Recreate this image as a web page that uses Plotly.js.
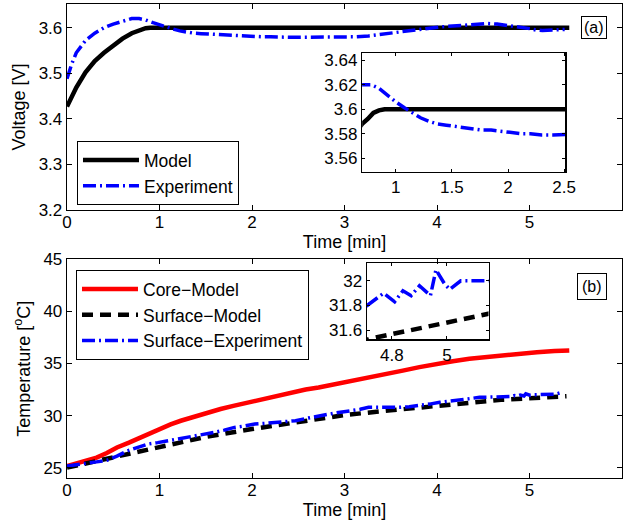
<!DOCTYPE html>
<html>
<head>
<meta charset="utf-8">
<script src="https://cdn.plot.ly/plotly-3.0.1.min.js"></script>
<style>html,body{margin:0;padding:0;background:#fff}#chart{width:626px;height:523px}</style>
</head>
<body>
<div id="chart"></div>
<script>
// ---- Voltage panel (a) ----
var tModel = [0, 0.1, 0.2, 0.3, 0.4, 0.5, 0.6, 0.7, 0.75, 0.8, 0.85, 0.9, 1.0, 2.0, 3.0, 4.0, 5.0, 5.43];
var vModel = [3.427, 3.469, 3.502, 3.527, 3.545, 3.562, 3.576, 3.588, 3.592, 3.597, 3.599, 3.600, 3.600, 3.600, 3.600, 3.600, 3.600, 3.600];

var tExp = [0, 0.05, 0.1, 0.2, 0.3, 0.4, 0.5, 0.6, 0.7, 0.78, 0.85, 0.93, 1.0, 1.08, 1.15, 1.22, 1.3, 1.37, 1.45, 1.53, 1.65, 1.76, 1.85, 1.94, 2.03, 2.12, 2.2, 2.3, 2.4, 2.52, 2.7, 2.9, 3.1, 3.26, 3.4, 3.58, 3.7, 3.8, 3.92, 4.05, 4.2, 4.35, 4.45, 4.55, 4.65, 4.78, 4.9, 5.0, 5.07, 5.14, 5.25, 5.38];
var vExp = [3.488, 3.52, 3.545, 3.572, 3.588, 3.600, 3.608, 3.615, 3.620, 3.620, 3.617, 3.611, 3.606, 3.601, 3.597, 3.593, 3.590, 3.588, 3.587, 3.586, 3.584, 3.583, 3.583, 3.582, 3.581, 3.580, 3.580, 3.579, 3.579, 3.579, 3.579, 3.579, 3.580, 3.582, 3.586, 3.590, 3.593, 3.596, 3.599, 3.602, 3.604, 3.605, 3.607, 3.609, 3.608, 3.605, 3.601, 3.598, 3.595, 3.594, 3.595, 3.596];

// ---- Temperature panel (b) ----
var tCore = [0, 0.1, 0.2, 0.32, 0.43, 0.54, 0.67, 0.8, 0.9, 1.01, 1.12, 1.23, 1.37, 1.52, 1.66, 1.81, 1.95, 2.1, 2.26, 2.43, 2.58, 2.72, 2.9, 3.08, 3.26, 3.45, 3.63, 3.81, 3.99, 4.17, 4.35, 4.53, 4.72, 4.9, 5.08, 5.27, 5.43];
var coreModel = [25.15, 25.4, 25.65, 25.96, 26.4, 26.93, 27.4, 27.9, 28.35, 28.8, 29.15, 29.5, 29.9, 30.3, 30.63, 30.95, 31.25, 31.55, 31.9, 32.23, 32.5, 32.7, 33.0, 33.35, 33.68, 34.0, 34.32, 34.65, 34.97, 35.22, 35.45, 35.62, 35.77, 35.95, 36.09, 36.2, 36.25];

var tSurf = [0, 0.5, 1.0, 1.5, 2.0, 2.5, 3.0, 3.5, 4.0, 4.5, 4.72, 5.12, 5.4];
var surfModel = [25.0, 25.96, 27.0, 27.95, 28.7, 29.35, 30.05, 30.5, 30.95, 31.35, 31.53, 31.72, 31.85];

var tSurfExp = [0, 0.1, 0.22, 0.32, 0.43, 0.54, 0.65, 0.76, 0.87, 0.98, 1.09, 1.2, 1.3, 1.45, 1.59, 1.7, 1.81, 1.92, 2.03, 2.14, 2.25, 2.36, 2.47, 2.6, 2.72, 2.81, 2.90, 3.0, 3.08, 3.17, 3.26, 3.42, 3.59, 3.7, 3.81, 3.92, 4.03, 4.12, 4.21, 4.33, 4.46, 4.57, 4.68, 4.71, 4.77, 4.81, 4.84, 4.87, 4.90, 4.94, 4.96, 4.99, 5.01, 5.05, 5.13, 5.2, 5.28, 5.35];
var surfExp = [25.15, 25.3, 25.48, 25.55, 25.7, 26.1, 26.6, 26.95, 27.25, 27.4, 27.57, 27.75, 27.96, 28.15, 28.38, 28.6, 28.86, 29.0, 29.18, 29.25, 29.34, 29.42, 29.5, 29.75, 29.99, 30.1, 30.24, 30.35, 30.47, 30.6, 30.79, 30.78, 30.79, 30.85, 30.95, 31.1, 31.27, 31.35, 31.43, 31.6, 31.75, 31.78, 31.82, 31.80, 31.90, 31.83, 31.92, 31.88, 31.96, 31.88, 32.09, 31.98, 31.93, 32.0, 32.0, 32.0, 32.05, 32.23];

// tick labels
var xTicks = [0, 1, 2, 3, 4, 5, 6];
var vTicks = [3.2, 3.3, 3.4, 3.5, 3.6];
var vTickText = ['3.2', '3.3', '3.4', '3.5', '3.6'];
var tTicks = [25, 30, 35, 40, 45];
var insetAX = [1, 1.5, 2, 2.5];
var insetAXText = ['1', '1.5', '2', '2.5'];
var insetAY = [3.56, 3.58, 3.6, 3.62, 3.64];
var insetAYText = ['3.56', '3.58', '3.6', '3.62', '3.64'];
var insetBX = [4.8, 5];
var insetBXText = ['4.8', '5'];
var insetBY = [31.6, 31.8, 32];
var insetBYText = ['31.6', '31.8', '32'];

var FONT = 'Liberation Sans, Arial, sans-serif';
var TICK = 17;
var LAB = 18;
var LEG = 17.5;
var dashDot = '13px,4px,2px,4px';
var dashed = '11px,7px';

var traces = [
  {x: tModel, y: vModel, name: 'Model', mode: 'lines', line: {color: '#000', width: 4.5}, xaxis: 'x', yaxis: 'y', legend: 'legend'},
  {x: tExp, y: vExp, name: 'Experiment', mode: 'lines', line: {color: '#0000ff', width: 3.5, dash: dashDot}, xaxis: 'x', yaxis: 'y', legend: 'legend'},
  {x: tModel, y: vModel, mode: 'lines', line: {color: '#000', width: 4.5}, xaxis: 'x3', yaxis: 'y3', showlegend: false},
  {x: tExp, y: vExp, mode: 'lines', line: {color: '#0000ff', width: 3.5, dash: dashDot}, xaxis: 'x3', yaxis: 'y3', showlegend: false},
  {x: tCore, y: coreModel, name: 'Core\u2212Model', mode: 'lines', line: {color: '#ff0000', width: 4.5}, xaxis: 'x2', yaxis: 'y2', legend: 'legend2'},
  {x: tSurf, y: surfModel, name: 'Surface\u2212Model', mode: 'lines', line: {color: '#000', width: 4.5, dash: dashed}, xaxis: 'x2', yaxis: 'y2', legend: 'legend2'},
  {x: tSurfExp, y: surfExp, name: 'Surface\u2212Experiment', mode: 'lines', line: {color: '#0000ff', width: 3.5, dash: dashDot}, xaxis: 'x2', yaxis: 'y2', legend: 'legend2'},
  {x: tSurf, y: surfModel, mode: 'lines', line: {color: '#000', width: 4.5, dash: dashed}, xaxis: 'x4', yaxis: 'y4', showlegend: false},
  {x: tSurfExp, y: surfExp, mode: 'lines', line: {color: '#0000ff', width: 3.5, dash: dashDot}, xaxis: 'x4', yaxis: 'y4', showlegend: false}
];

function ax(extra) {
  var base = {showline: true, linecolor: '#000', linewidth: 1.3, mirror: 'ticks', ticks: 'inside', ticklen: 5, tickwidth: 1, tickcolor: '#000',
    showgrid: false, zeroline: false, tickfont: {family: FONT, size: TICK, color: '#000'}, fixedrange: true};
  for (var k in extra) base[k] = extra[k];
  return base;
}

var layout = {
  width: 626, height: 523,
  margin: {l: 67, r: 4.3, t: 4, b: 45.3},
  paper_bgcolor: '#fff', plot_bgcolor: 'rgba(0,0,0,0)',
  font: {family: FONT, size: LAB, color: '#000'},
  xaxis: ax({domain: [0, 1], anchor: 'y', range: [0, 6], tickvals: xTicks, ticklabelstandoff: -4,
    title: {text: 'Time [min]', font: {family: FONT, size: LAB}, standoff: 0}}),
  yaxis: ax({domain: [0.5651, 1], anchor: 'x', range: [3.2, 3.652], tickvals: vTicks, ticktext: vTickText,
    title: {text: 'Voltage [V]', font: {family: FONT, size: LAB}, standoff: 8}}),
  xaxis2: ax({domain: [0, 1], anchor: 'y2', range: [0, 6], tickvals: xTicks, ticklabelstandoff: -4,
    title: {text: 'Time [min]', font: {family: FONT, size: LAB}, standoff: 0}}),
  yaxis2: ax({domain: [0, 0.4611], anchor: 'x2', range: [24, 45], tickvals: tTicks,
    title: {text: 'Temperature [<sup>o</sup>C]', font: {family: FONT, size: LAB}, standoff: 8}}),
  xaxis3: ax({domain: [0.5318, 0.8978], anchor: 'y3', range: [0.7, 2.51], tickvals: insetAX, ticktext: insetAXText, ticklen: 3}),
  yaxis3: ax({domain: [0.6460, 0.8959], anchor: 'x3', range: [3.549, 3.6455], tickvals: insetAY, ticktext: insetAYText, ticklen: 3}),
  xaxis4: ax({domain: [0.5403, 0.7595], anchor: 'y4', range: [4.709, 5.151], tickvals: insetBX, ticktext: insetBXText, ticklen: 3}),
  yaxis4: ax({domain: [0.2922, 0.4539], anchor: 'x4', range: [31.524, 32.146], tickvals: insetBY, ticktext: insetBYText, ticklen: 3}),
  legend: {x: 0.018, y: 0.7108, xanchor: 'left', yanchor: 'top', bgcolor: '#fff', bordercolor: '#000', borderwidth: 1,
    font: {family: FONT, size: LEG, color: '#000'}, itemwidth: 56, tracegroupgap: 0},
  legend2: {x: 0.0162, y: 0.4385, xanchor: 'left', yanchor: 'top', bgcolor: '#fff', bordercolor: '#000', borderwidth: 1,
    font: {family: FONT, size: LEG, color: '#000'}, itemwidth: 56, tracegroupgap: 0},
  annotations: [
    {text: '(a)', xref: 'paper', yref: 'paper', x: 0.949, y: 0.9514, xanchor: 'center', yanchor: 'middle', showarrow: false,
      bordercolor: '#000', borderwidth: 1, borderpad: 2, bgcolor: '#fff', font: {family: FONT, size: 16, color: '#000'}},
    {text: '(b)', xref: 'paper', yref: 'paper', x: 0.9456, y: 0.4047, xanchor: 'center', yanchor: 'middle', showarrow: false,
      bordercolor: '#000', borderwidth: 1, borderpad: 4, bgcolor: '#fff', font: {family: FONT, size: 16, color: '#000'}}
  ],
  showlegend: true
};

Plotly.newPlot('chart', traces, layout, {displayModeBar: false, staticPlot: true});
</script>
</body>
</html>
